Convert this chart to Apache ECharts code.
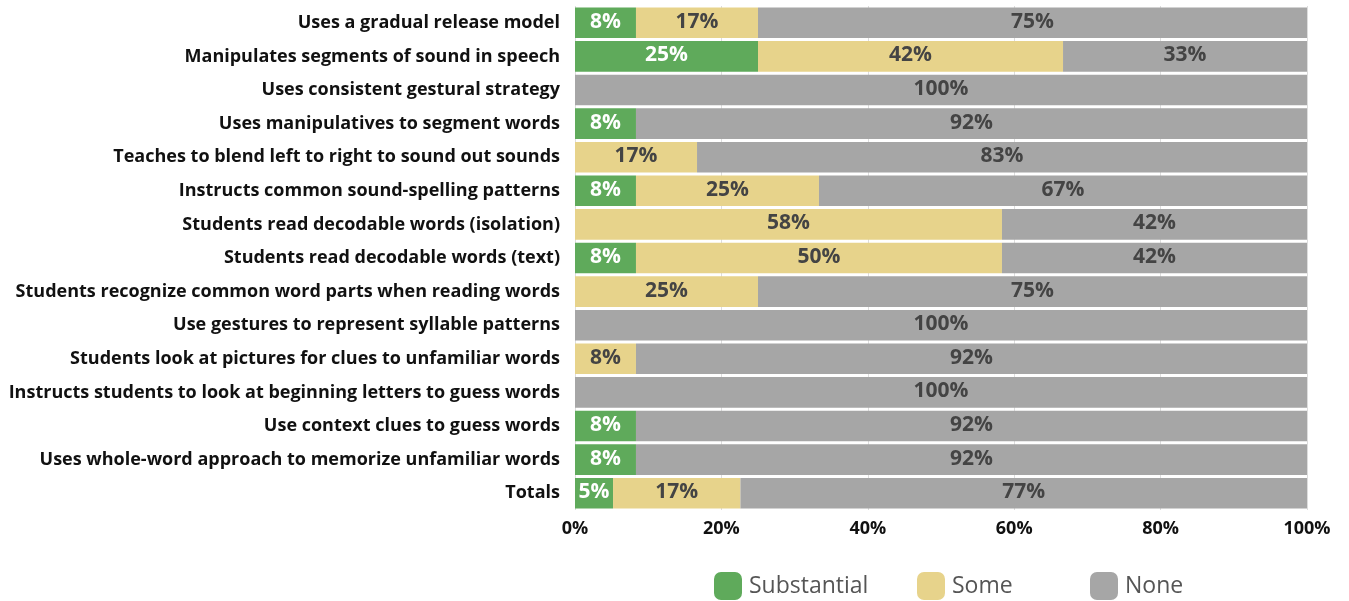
<!DOCTYPE html>
<html><head><meta charset="utf-8">
<script src="https://cdn.jsdelivr.net/npm/echarts@6/dist/echarts.min.js"></script>
<style>html,body{margin:0;padding:0;background:#fff}#c{width:1349px;height:601px}</style>
</head><body><div id="c"></div>
<script>
const categories = [
  "Uses a gradual release model",
  "Manipulates segments of sound in speech",
  "Uses consistent gestural strategy",
  "Uses manipulatives to segment words",
  "Teaches to blend left to right to sound out sounds",
  "Instructs common sound-spelling patterns",
  "Students read decodable words (isolation)",
  "Students read decodable words (text)",
  "Students recognize common word parts when reading words",
  "Use gestures to represent syllable patterns",
  "Students look at pictures for clues to unfamiliar words",
  "Instructs students to look at beginning letters to guess words",
  "Use context clues to guess words",
  "Uses whole-word approach to memorize unfamiliar words",
  "Totals"
];
const substantial = [8.33, 25, 0, 8.33, 0, 8.33, 0, 8.33, 0, 0, 0, 0, 8.33, 8.33, 5.2];
const some =        [16.67, 41.67, 0, 0, 16.67, 25, 58.33, 50, 25, 0, 8.33, 0, 0, 0, 17.4];
const none =        [75, 33.33, 100, 91.67, 83.33, 66.67, 41.67, 41.67, 75, 100, 91.67, 100, 91.67, 91.67, 77.4];
const xTicks = [0, 20, 40, 60, 80, 100];

const FONT = 'Open Sans';
const chart = echarts.init(document.getElementById('c'));
function lab(color){
  return {show:true, position:'inside', offset:[0,-1], color:color, fontFamily:FONT, fontWeight:'bold', fontSize:21,
    formatter: p => p.value > 0 ? Math.round(p.value) + '%' : ''};
}
const names = ['Substantial','Some','None'];
const colors = ['#5faa5b','#e7d38b','#a6a6a6'];
const legendLefts = [714, 917, 1090];
chart.setOption({
  animation:false,
  color: colors,
  textStyle:{fontFamily:FONT},
  grid:{left:575, right:42, top:6, bottom:91, containLabel:false},
  legend: names.map((n,i)=>({
    data:[n], left:legendLefts[i], top:572, padding:0, itemWidth:28, itemHeight:28, itemGap:10,
    icon:'roundRect',
    textStyle:{fontFamily:FONT, fontSize:23, color:'#555', padding:[4,0,0,2]}
  })),
  xAxis:{type:'value', min:0, max:100, interval:20,
    axisLabel:{formatter: v => v + '%', color:'#111', fontWeight:'bold', fontSize:18, fontFamily:FONT, margin:10},
    splitLine:{show:true, lineStyle:{color:'#ddd', width:1}},
    axisLine:{show:false}, axisTick:{show:false}},
  yAxis:{type:'category', data:categories, inverse:true,
    axisLabel:{color:'#111', fontWeight:'bold', fontSize:18, fontFamily:FONT, margin:15},
    axisLine:{show:false}, axisTick:{show:false}},
  series:[
    {name:'Substantial', type:'bar', stack:'t', data:substantial, barCategoryGap:'9%', label:lab('#fff')},
    {name:'Some', type:'bar', stack:'t', data:some, label:lab('#444')},
    {name:'None', type:'bar', stack:'t', data:none, label:lab('#444')}
  ]
});
</script></body></html>
